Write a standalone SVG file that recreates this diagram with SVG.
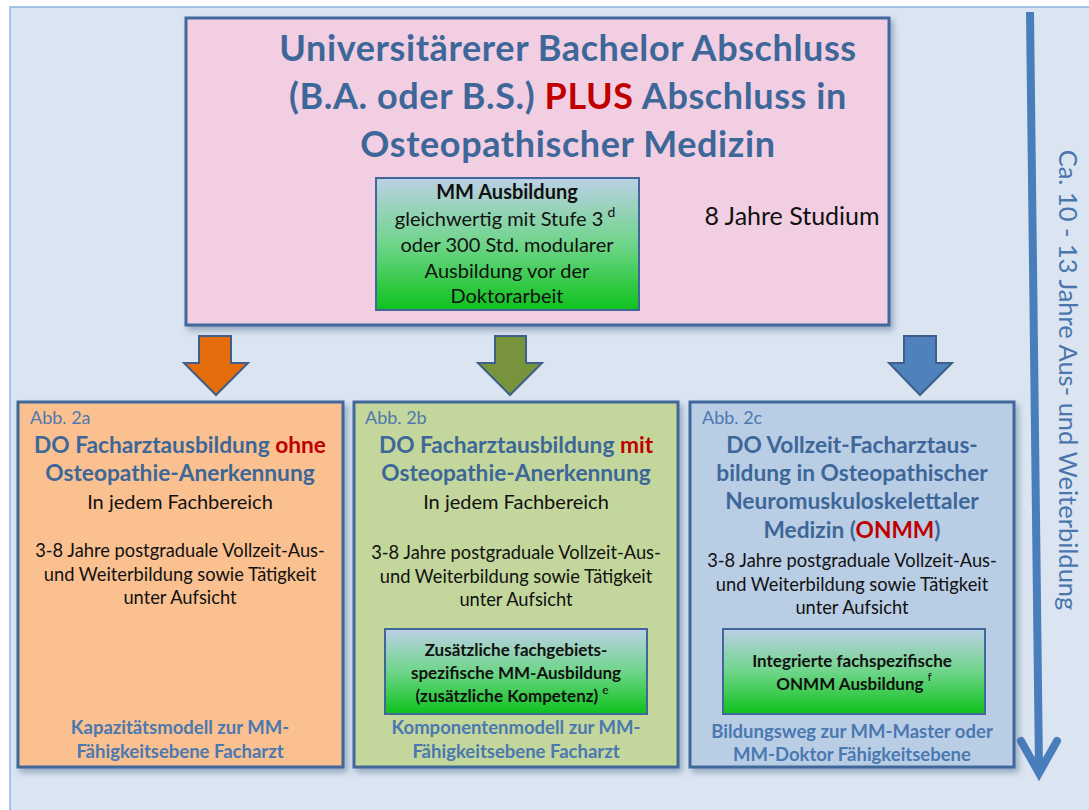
<svg xmlns="http://www.w3.org/2000/svg" width="1089" height="810" viewBox="0 0 1089 810">
<defs>
<linearGradient id="gGreen" x1="0" y1="0" x2="0" y2="1">
<stop offset="0" stop-color="#bcd0e6"/>
<stop offset="0.5" stop-color="#6fd58a"/>
<stop offset="1" stop-color="#0ec21c"/>
</linearGradient>
<filter id="sh" x="-5%" y="-5%" width="112%" height="115%">
<feDropShadow dx="3" dy="4" stdDeviation="3" flood-color="#3a5a80" flood-opacity="0.45"/>
</filter>
<style>
.box{stroke:#41679a;stroke-width:3}
.inner{stroke:#41679a;stroke-width:2}
.t{font-family:Lato,"Liberation Sans",sans-serif;text-anchor:middle}
.title{font-weight:bold;fill:#3d6798}
.blk{fill:#111}
.b{font-weight:bold}
.red{fill:#c00000}
.sup{font-weight:normal}
.lbl{font-family:Lato,"Liberation Sans",sans-serif;fill:#4f78ad;font-size:18px}
.foot{font-weight:bold;fill:#4a78b0;font-size:18.5px}
.arr{stroke:#3f5f89;stroke-width:2}
</style>
</defs>
<rect x="0" y="0" width="1089" height="810" fill="#ffffff"/>
<rect id="background" x="10" y="7" width="1090" height="810" fill="#dbe5f1" stroke="#8db3e2" stroke-width="1.5"/>

<g id="top">
<rect class="box" x="186" y="18" width="703" height="307" fill="#f2cee3" filter="url(#sh)"/>
<text class="t title" x="568" y="61" font-size="36" letter-spacing="0.6">Universitärerer Bachelor Abschluss</text>
<text class="t title" x="568" y="109" font-size="36" letter-spacing="0.6">(B.A. oder B.S.) <tspan class="red">PLUS</tspan> Abschluss in</text>
<text class="t title" x="568" y="157" font-size="36" letter-spacing="0.6">Osteopathischer Medizin</text>
<text class="t blk" x="792" y="225" font-size="25">8 Jahre Studium</text>
</g>

<g id="mm">
<rect class="inner" x="376" y="178" width="263" height="132" fill="url(#gGreen)"/>
<text class="t blk b" x="507" y="199" font-size="20">MM Ausbildung</text>
<text class="t blk" x="505" y="226" font-size="20">gleichwertig mit Stufe 3<tspan class="sup" dx="4" dy="-9" font-size="14">d</tspan></text>
<text class="t blk" x="507" y="252" font-size="20">oder 300 Std. modularer</text>
<text class="t blk" x="507" y="278" font-size="20">Ausbildung vor der</text>
<text class="t blk" x="507" y="303" font-size="20">Doktorarbeit</text>
</g>

<g id="connectors">
<polygon class="arr" points="199,336 231,336 231,363 248,363 216,395 184,363 199,363" fill="#e46c0a"/>
<polygon class="arr" points="495,336 526,336 526,363 542,363 510,395 478,363 495,363" fill="#77933c"/>
<polygon class="arr" points="904,336 936,336 936,363 952,363 920,395 889,363 904,363" fill="#4f81bd"/>
<line x1="1030" y1="12" x2="1039" y2="770" stroke="#4a7dbb" stroke-width="8"/>
<polyline points="1021,741 1039,773 1057,741" fill="none" stroke="#4a7dbb" stroke-width="8" stroke-linecap="round" stroke-linejoin="miter"/>
</g>

<g id="box2a">
<rect class="box" x="18" y="402" width="325" height="365" fill="#fac090" filter="url(#sh)"/>
<text class="lbl" x="30" y="424">Abb. 2a</text>
<text class="t title" x="180" y="453" font-size="22.7">DO Facharztausbildung <tspan class="red">ohne</tspan></text>
<text class="t title" x="180" y="481" font-size="22.7">Osteopathie-Anerkennung</text>
<text class="t blk" x="180" y="509" font-size="20">In jedem Fachbereich</text>
<text class="t blk" x="180" y="557" font-size="18.3">3-8 Jahre postgraduale Vollzeit-Aus-</text>
<text class="t blk" x="180" y="581" font-size="18.3">und Weiterbildung sowie Tätigkeit</text>
<text class="t blk" x="180" y="604" font-size="18.3">unter Aufsicht</text>
<text class="t foot" x="180" y="734">Kapazitätsmodell zur MM-</text>
<text class="t foot" x="180" y="758">Fähigkeitsebene Facharzt</text>
</g>

<g id="box2b">
<rect class="box" x="354" y="402" width="324" height="365" fill="#c3d69b" filter="url(#sh)"/>
<text class="lbl" x="365" y="424">Abb. 2b</text>
<text class="t title" x="516" y="453" font-size="22.7">DO Facharztausbildung <tspan class="red">mit</tspan></text>
<text class="t title" x="516" y="481" font-size="22.7">Osteopathie-Anerkennung</text>
<text class="t blk" x="516" y="509" font-size="20">In jedem Fachbereich</text>
<text class="t blk" x="516" y="559" font-size="18.3">3-8 Jahre postgraduale Vollzeit-Aus-</text>
<text class="t blk" x="516" y="583" font-size="18.3">und Weiterbildung sowie Tätigkeit</text>
<text class="t blk" x="516" y="606" font-size="18.3">unter Aufsicht</text>
<rect class="inner" x="385" y="629" width="262" height="85" fill="url(#gGreen)"/>
<text class="t blk b" x="516" y="656" font-size="17">Zusätzliche fachgebiets-</text>
<text class="t blk b" x="516" y="679" font-size="17">spezifische MM-Ausbildung</text>
<text class="t blk b" x="512" y="702" font-size="17">(zusätzliche Kompetenz)<tspan class="sup" dx="4" dy="-8" font-size="12">e</tspan></text>
<text class="t foot" x="516" y="734">Komponentenmodell zur MM-</text>
<text class="t foot" x="516" y="758">Fähigkeitsebene Facharzt</text>
</g>

<g id="box2c">
<rect class="box" x="690" y="402" width="324" height="365" fill="#b9cde5" filter="url(#sh)"/>
<text class="lbl" x="702" y="424">Abb. 2c</text>
<text class="t title" x="852" y="453" font-size="22.7">DO Vollzeit-Facharztaus-</text>
<text class="t title" x="852" y="481" font-size="22.7">bildung in Osteopathischer</text>
<text class="t title" x="852" y="509" font-size="22.7">Neuromuskuloskelettaler</text>
<text class="t title" x="852" y="538" font-size="22.7">Medizin (<tspan class="red">ONMM</tspan>)</text>
<text class="t blk" x="852" y="567" font-size="18.3">3-8 Jahre postgraduale Vollzeit-Aus-</text>
<text class="t blk" x="852" y="591" font-size="18.3">und Weiterbildung sowie Tätigkeit</text>
<text class="t blk" x="852" y="614" font-size="18.3">unter Aufsicht</text>
<rect class="inner" x="723" y="629" width="262" height="85" fill="url(#gGreen)"/>
<text class="t blk b" x="852" y="667" font-size="17">Integrierte fachspezifische</text>
<text class="t blk b" x="854" y="690" font-size="17">ONMM Ausbildung<tspan class="sup" dx="4" dy="-9" font-size="12">f</tspan></text>
<text class="t foot" x="852" y="738">Bildungsweg zur MM-Master oder</text>
<text class="t foot" x="852" y="761">MM-Doktor Fähigkeitsebene</text>
</g>

<g id="duration">
<text class="t" x="0" y="0" font-size="25.5" fill="#4a76ad" transform="translate(1059,380) rotate(90)">Ca. 10 - 13 Jahre Aus- und Weiterbildung</text>
</g>
</svg>
